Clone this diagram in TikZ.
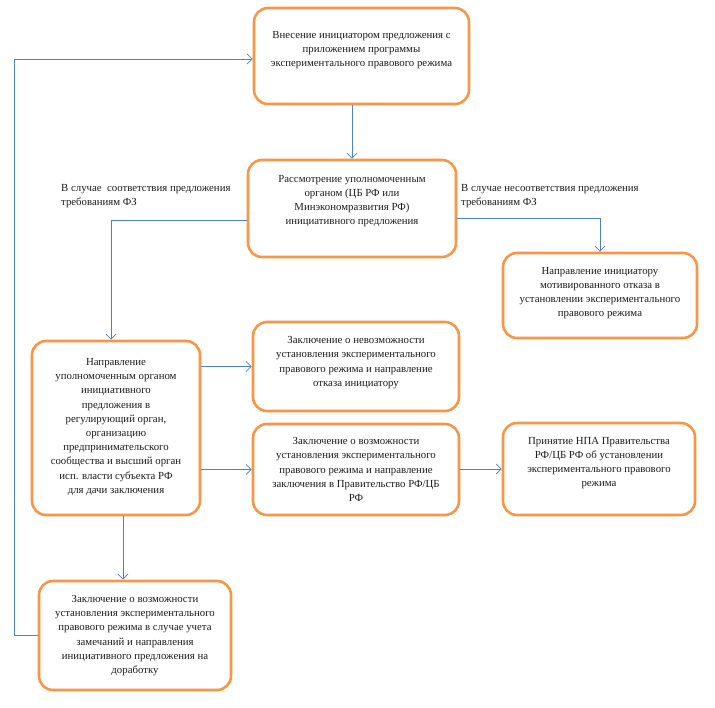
\documentclass[tikz,border=0pt]{standalone}
\usepackage{fontspec}
\setmainfont{Liberation Serif}
\usepackage{tikz}
\usetikzlibrary{arrows.meta}
\definecolor{boxorange}{HTML}{F79646}
\definecolor{linkblue}{HTML}{4F81BD}
\definecolor{ink}{HTML}{1C1C1C}
\tikzset{
	box/.style={draw=boxorange, line width=2.6pt, rounded corners=14pt, fill=white, align=center, text=ink, inner sep=0pt, font=\fontsize{10.8}{14.2}\selectfont},
	cond/.style={align=left, text=ink, inner sep=0pt, font=\fontsize{10.8}{14.2}\selectfont},
	link/.style={draw=linkblue, line width=0.8pt, -{Straight Barb[length=5pt,width=10pt]}}
}

\begin{document}
\begin{tikzpicture}[x=1pt, y=-1pt]
		%%%%% START %%%%%
		\useasboundingbox (0,0) rectangle (715,707);
		
		\node[box, minimum width=215, minimum height=96] (init) at (361.5,56) {Внесение инициатором предложения с\\приложением программы\\экспериментального правового режима\\[0pt]};
		\node[box, minimum width=208, minimum height=97] (review) at (352,208.5) {Рассмотрение уполномоченным\\органом (ЦБ РФ или\\Минэкономразвития РФ)\\инициативного предложения\\[3pt]};
		\node[box, minimum width=194, minimum height=85] (refuse) at (600,295.5) {Направление инициатору\\мотивированного отказа в\\установлении экспериментального\\правового режима\\[-7pt]};
		
		\node[box, minimum width=168, minimum height=174] (direct) at (116,428) {Направление\\уполномоченным органом\\инициативного\\предложения в\\регулирующий орган,\\организацию\\предпринимательского\\сообщества и высший орган\\исп. власти субъекта РФ\\для дачи заключения\\[-10pt]};
		\node[box, minimum width=206, minimum height=89] (nope) at (356,366.5) {Заключение о невозможности\\установления экспериментального\\правового режима и направление\\отказа инициатору\\[-4pt]};
		\node[box, minimum width=206, minimum height=91] (yes) at (356,469.5) {Заключение о возможности\\установления экспериментального\\правового режима и направление\\заключения в Правительство РФ/ЦБ\\РФ};
		\node[box, minimum width=192, minimum height=92] (npa) at (599,469) {Принятие НПА Правительства\\РФ/ЦБ РФ об установлении\\экспериментального правового\\режима\\[0pt]};
		\node[box, minimum width=192, minimum height=109] (rework) at (135,635.5) {Заключение о возможности\\установления экспериментального\\правового режима в случае учета\\замечаний и направления\\инициативного предложения на\\доработку};
		
		\node[cond, anchor=north west] (agree) at (61,184) {В случае\ \ соответствия предложения\\требованиям ФЗ};
		\node[cond, anchor=north west] (disagree) at (461,184) {В случае несоответствия предложения\\требованиям ФЗ};
		
		\coordinate (back) at (14,635.5);
		
		\draw[link] (review.north |- init.south) -- (review.north);
		\draw[link] (review.west |- 0,220) -| ([xshift=-5pt]direct.north);
		\draw[link] (review.east |- 0,218) -| (refuse.north);
		\draw[link] (direct.east |- nope.west) -- (nope.west);
		\draw[link] (direct.east |- yes.west) -- (yes.west);
		\draw[link] (yes.east |- npa.west) -- (npa.west);
		\draw[link] ([xshift=7pt]direct.south) -- ([xshift=7pt]direct.south |- rework.north);
		\draw[link] (rework.west) -- (back) |- ([yshift=-3pt]init.west);
		
		%%%%% END %%%%%
	\end{tikzpicture}
\end{document}
